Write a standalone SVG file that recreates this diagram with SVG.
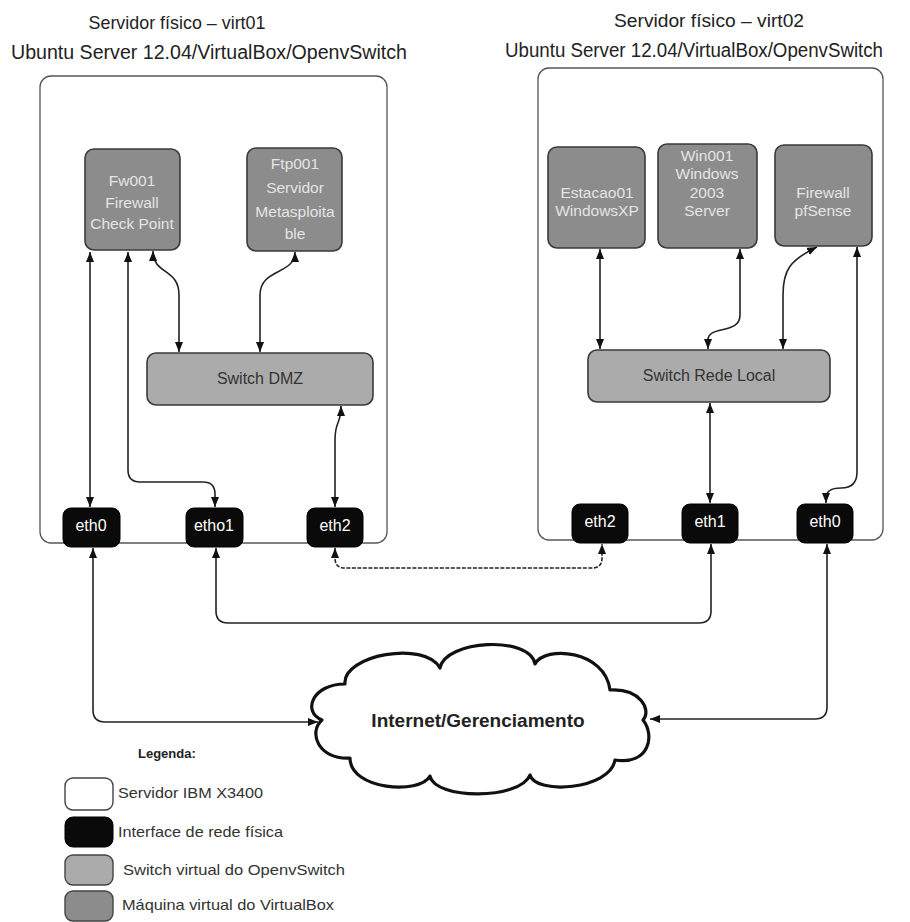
<svg xmlns="http://www.w3.org/2000/svg" width="910" height="922" viewBox="0 0 910 922">
<style>
text{font-family:"Liberation Sans",Arial,sans-serif}
.title{font-size:19px;fill:#222}
.srv{fill:#fff;stroke:#555;stroke-width:1.3}
.vm{fill:#8c8c8c;stroke:#3a3a3a;stroke-width:1.6}
.sw{fill:#ababab;stroke:#3a3a3a;stroke-width:1.6}
.eth{fill:#0a0a0a;stroke:#000;stroke-width:1}
.vmt{font-size:15.5px;fill:#e4e4e4;text-anchor:middle}
.swt{font-size:16px;fill:#333;text-anchor:middle}
.etht{font-size:16px;fill:#fff;text-anchor:middle}
.lg{font-size:14.5px;fill:#333}
.c{fill:none;stroke:#222;stroke-width:1.6;marker-start:url(#a);marker-end:url(#a)}
</style>
<defs>
<marker id="a" viewBox="0 0 10 8" refX="10" refY="4" markerWidth="10" markerHeight="8" markerUnits="userSpaceOnUse" orient="auto-start-reverse">
<path d="M0,0 L10,4 L0,8 z" fill="#111"/>
</marker>
</defs>
<rect width="910" height="922" fill="#fff"/>

<g id="titles">
<text class="title" x="177" y="29" text-anchor="middle" textLength="177" lengthAdjust="spacingAndGlyphs">Servidor físico – virt01</text>
<text class="title" x="209" y="59" text-anchor="middle" textLength="396" lengthAdjust="spacingAndGlyphs" style="font-size:20px">Ubuntu Server 12.04/VirtualBox/OpenvSwitch</text>
<text class="title" x="709" y="27" text-anchor="middle" textLength="190" lengthAdjust="spacingAndGlyphs">Servidor físico – virt02</text>
<text class="title" x="694" y="57" text-anchor="middle" textLength="378" lengthAdjust="spacingAndGlyphs" style="font-size:20px">Ubuntu Server 12.04/VirtualBox/OpenvSwitch</text>
</g>

<g id="virt01"><rect class="srv" x="40" y="76" width="347" height="467" rx="11"/></g>
<g id="virt02"><rect class="srv" x="538" y="68" width="345" height="472" rx="11"/></g>

<g id="fw001"><rect class="vm" x="85" y="149" width="95" height="101" rx="9"/>
<text class="vmt" x="132" y="186">Fw001</text><text class="vmt" x="132" y="208">Firewall</text><text class="vmt" x="132" y="229">Check Point</text></g>
<g id="ftp001"><rect class="vm" x="247" y="148" width="95" height="103" rx="9"/>
<text class="vmt" x="295" y="169">Ftp001</text><text class="vmt" x="295" y="193">Servidor</text><text class="vmt" x="295" y="217">Metasploita</text><text class="vmt" x="295" y="239">ble</text></g>
<g id="estacao01"><rect class="vm" x="548" y="147" width="97" height="101" rx="9"/>
<text class="vmt" x="597" y="198">Estacao01</text><text class="vmt" x="597" y="216">WindowsXP</text></g>
<g id="win001"><rect class="vm" x="658" y="144" width="99" height="104" rx="9"/>
<text class="vmt" x="707" y="161">Win001</text><text class="vmt" x="707" y="179">Windows</text><text class="vmt" x="707" y="198">2003</text><text class="vmt" x="707" y="216">Server</text></g>
<g id="pfsense"><rect class="vm" x="775" y="145" width="97" height="101" rx="9"/>
<text class="vmt" x="823" y="198">Firewall</text><text class="vmt" x="823" y="216">pfSense</text></g>

<g id="switch-dmz"><rect class="sw" x="147" y="353" width="226" height="52" rx="9"/>
<text class="swt" x="260" y="384">Switch DMZ</text></g>
<g id="switch-rede-local"><rect class="sw" x="588" y="350" width="242" height="52" rx="9"/>
<text class="swt" x="709" y="381">Switch Rede Local</text></g>

<g id="eth0-virt01"><rect class="eth" x="63" y="508" width="57" height="39" rx="8"/><text class="etht" x="91" y="531">eth0</text></g>
<g id="etho1-virt01"><rect class="eth" x="186" y="508" width="57" height="39" rx="8"/><text class="etht" x="214" y="531">etho1</text></g>
<g id="eth2-virt01"><rect class="eth" x="307" y="508" width="56" height="39" rx="8"/><text class="etht" x="335" y="531">eth2</text></g>
<g id="eth2-virt02"><rect class="eth" x="572" y="504" width="56" height="39" rx="8"/><text class="etht" x="600" y="527">eth2</text></g>
<g id="eth1-virt02"><rect class="eth" x="682" y="504" width="56" height="39" rx="8"/><text class="etht" x="710" y="527">eth1</text></g>
<g id="eth0-virt02"><rect class="eth" x="797" y="504" width="56" height="39" rx="8"/><text class="etht" x="825" y="527">eth0</text></g>

<g id="cloud">
<path d="M322,720 C302,712 312,684 345,684 C342,655 425,640 440,668 C445,640 530,635 535,664 C545,645 605,650 610,690 C640,688 652,710 643,720 C655,735 650,765 615,760 C610,790 535,795 530,775 C520,800 435,800 430,776 C420,795 350,790 350,758 C318,760 308,732 322,720 Z" fill="#fff" stroke="#111" stroke-width="3.2" stroke-linejoin="round"/>
<text x="478" y="727" text-anchor="middle" font-weight="bold" style="font-size:19px;fill:#222">Internet/Gerenciamento</text>
</g>

<g id="connectors">
<path class="c" d="M90,252 L90,507"/>
<path class="c" d="M128,252 L128,470 Q128,482 140,482 L203,482 Q215,482 215,494 L215,507"/>
<path class="c" d="M153,251 C153,275 179,268 179,295 L179,352"/>
<path class="c" d="M295,252 C295,275 260,268 260,295 L260,352"/>
<path class="c" d="M341,406 C341,425 335,420 335,440 L335,507"/>
<path class="c" d="M600,249 L600,349"/>
<path class="c" d="M740,249 L740,315 C740,335 708,325 708,340 L708,349"/>
<path class="c" d="M817,247 C790,260 783,270 783,295 L783,349"/>
<path class="c" d="M857,247 L857,472 Q857,488 841,488 Q826,488 826,498 L826,503"/>
<path class="c" d="M710,403 L710,503"/>
<path class="c" d="M335,548 L335,558 Q335,568 345,568 L592,568 Q602,568 602,558 L602,544" stroke-dasharray="4 1.5"/>
<path class="c" d="M216,548 L216,611 Q216,623 228,623 L699,623 Q711,623 711,611 L711,544"/>
<path class="c" d="M93,548 L93,710 Q93,722 105,722 L318,722"/>
<path class="c" d="M827,544 L827,707 Q827,719 815,719 L650,719"/>
</g>

<g id="legend">
<text x="138" y="758" font-weight="bold" style="font-size:13px;fill:#222">Legenda:</text>
<rect x="65" y="778" width="48" height="32" rx="8" fill="#fff" stroke="#444" stroke-width="1.4"/>
<text class="lg" x="118" y="798" textLength="145" lengthAdjust="spacingAndGlyphs">Servidor IBM X3400</text>
<rect x="65" y="817" width="48" height="30" rx="8" fill="#0a0a0a" stroke="#000"/>
<text class="lg" x="118" y="837" textLength="165" lengthAdjust="spacingAndGlyphs">Interface de rede física</text>
<rect x="65" y="855" width="48" height="30" rx="8" fill="#ababab" stroke="#444" stroke-width="1.4"/>
<text class="lg" x="123" y="875" textLength="222" lengthAdjust="spacingAndGlyphs">Switch virtual do OpenvSwitch</text>
<rect x="65" y="891" width="48" height="30" rx="8" fill="#8c8c8c" stroke="#444" stroke-width="1.4"/>
<text class="lg" x="122" y="910" textLength="212" lengthAdjust="spacingAndGlyphs">Máquina virtual do VirtualBox</text>
</g>
</svg>
